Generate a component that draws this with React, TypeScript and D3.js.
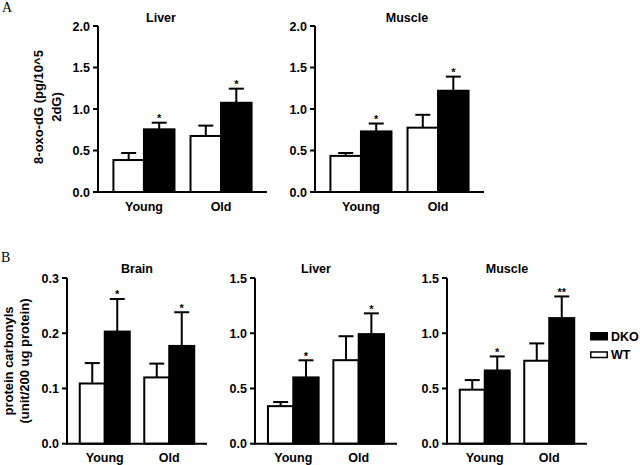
import React from "react";
import * as d3 from "d3";

// ---------- data ----------
const groups = ["Young", "Old"];
const seriesNames = ["WT", "DKO"];

// Panel A: 8-oxo-dG
const liverA_WT = [0.385, 0.675];
const liverA_WT_sem = [0.085, 0.125];
const liverA_DKO = [0.755, 1.075];
const liverA_DKO_sem = [0.08, 0.17];
const liverA_sig = ["*", "*"];

const muscleA_WT = [0.435, 0.775];
const muscleA_WT_sem = [0.035, 0.155];
const muscleA_DKO = [0.73, 1.22];
const muscleA_DKO_sem = [0.095, 0.17];
const muscleA_sig = ["*", "*"];

// Panel B: protein carbonyls
const brainB_WT = [0.109, 0.12];
const brainB_WT_sem = [0.037, 0.025];
const brainB_DKO = [0.203, 0.177];
const brainB_DKO_sem = [0.059, 0.061];
const brainB_sig = ["*", "*"];

const liverB_WT = [0.34, 0.756];
const liverB_WT_sem = [0.037, 0.217];
const liverB_DKO = [0.6, 0.992];
const liverB_DKO_sem = [0.155, 0.188];
const liverB_sig = ["*", "*"];

const muscleB_WT = [0.489, 0.751];
const muscleB_WT_sem = [0.087, 0.157];
const muscleB_DKO = [0.663, 1.137];
const muscleB_DKO_sem = [0.127, 0.196];
const muscleB_sig = ["*", "**"];

const ticksA = [0, 0.5, 1.0, 1.5, 2.0];
const ticksBrain = [0, 0.1, 0.2, 0.3];
const ticksB = [0, 0.5, 1.0, 1.5];

const FONT = "'Liberation Sans', Arial, Helvetica, sans-serif";

type PanelProps = {
  title: string;
  titleX: number;
  titleY: number;
  x0: number;
  x1: number;
  yTop: number;
  yBot: number;
  yMax: number;
  ticks: number[];
  wt: number[];
  wtSem: number[];
  dko: number[];
  dkoSem: number[];
  sig: string[];
  padInner: number;
  padOuter: number;
};

function Panel(p: PanelProps) {
  const y = d3.scaleLinear().domain([0, p.yMax]).range([p.yBot, p.yTop]);
  const xg = d3
    .scaleBand<string>()
    .domain(groups)
    .range([p.x0, p.x1])
    .paddingInner(p.padInner)
    .paddingOuter(p.padOuter);
  const xs = d3.scaleBand<string>().domain(seriesNames).range([0, xg.bandwidth()]);
  const capW = 15;
  const means: Record<string, number[]> = { WT: p.wt, DKO: p.dko };
  const sems: Record<string, number[]> = { WT: p.wtSem, DKO: p.dkoSem };
  return (
    <g>
      <text
        x={p.titleX}
        y={p.titleY}
        textAnchor="middle"
        fontFamily={FONT}
        fontWeight="bold"
        fontSize={12.5}
      >
        {p.title}
      </text>
      {groups.map((g, gi) =>
        seriesNames.map((s) => {
          const bx = (xg(g) as number) + (xs(s) as number);
          const bw = xs.bandwidth();
          const m = means[s][gi];
          const e = m + sems[s][gi];
          const cx = bx + bw / 2;
          return (
            <g key={g + s}>
              <line x1={cx} x2={cx} y1={y(m)} y2={y(e)} stroke="#000" strokeWidth={2} />
              <line
                x1={cx - capW / 2}
                x2={cx + capW / 2}
                y1={y(e)}
                y2={y(e)}
                stroke="#000"
                strokeWidth={2}
              />
              <rect
                x={bx}
                y={y(m)}
                width={bw}
                height={p.yBot - y(m)}
                fill={s === "DKO" ? "#000" : "#fff"}
                stroke="#000"
                strokeWidth={2}
              />
              {s === "DKO" && (
                <text
                  x={cx}
                  y={y(e) - 0.5}
                  textAnchor="middle"
                  fontFamily={FONT}
                  fontWeight="bold"
                  fontSize={11}
                >
                  {p.sig[gi]}
                </text>
              )}
            </g>
          );
        })
      )}
      {/* axes */}
      <line x1={p.x0} x2={p.x0} y1={p.yTop} y2={p.yBot + 1} stroke="#000" strokeWidth={2} />
      <line x1={p.x0 - 1} x2={p.x1} y1={p.yBot} y2={p.yBot} stroke="#000" strokeWidth={2} />
      {p.ticks.map((t) => (
        <g key={t}>
          <line x1={p.x0 - 5} x2={p.x0} y1={y(t)} y2={y(t)} stroke="#000" strokeWidth={2} />
          <text
            x={p.x0 - 8}
            y={y(t)}
            dy="0.36em"
            textAnchor="end"
            fontFamily={FONT}
            fontWeight="bold"
            fontSize={12.5}
          >
            {d3.format(".1f")(t)}
          </text>
        </g>
      ))}
      {groups.map((g) => (
        <text
          key={g}
          x={(xg(g) as number) + xg.bandwidth() / 2}
          y={p.yBot + 18.5}
          textAnchor="middle"
          fontFamily={FONT}
          fontWeight="bold"
          fontSize={12.5}
        >
          {g}
        </text>
      ))}
    </g>
  );
}

export default function App() {
  const padA = { padInner: 0.208, padOuter: 0.2 };
  const padB = { padInner: 0.225, padOuter: 0.198 };
  return (
    <svg
      width={640}
      height={465}
      style={{ position: "absolute", left: 0, top: 0, background: "#fff" }}
    >
      <rect x={0} y={0} width={640} height={465} fill="#fff" />
      <text x={2} y={12} fontFamily="'Liberation Serif', 'Times New Roman', serif" fontSize={14}>
        A
      </text>
      <text x={1} y={262} fontFamily="'Liberation Serif', 'Times New Roman', serif" fontSize={14}>
        B
      </text>

      {/* Y label A */}
      <text
        transform="translate(43,107) rotate(-90)"
        textAnchor="middle"
        fontFamily={FONT}
        fontWeight="bold"
        fontSize={13}
      >
        8-oxo-dG (pg/10^5
      </text>
      <text
        transform="translate(61,107) rotate(-90)"
        textAnchor="middle"
        fontFamily={FONT}
        fontWeight="bold"
        fontSize={13}
      >
        2dG)
      </text>

      {/* Y label B */}
      <text
        transform="translate(13,361) rotate(-90)"
        textAnchor="middle"
        fontFamily={FONT}
        fontWeight="bold"
        fontSize={13}
      >
        protein carbonyls
      </text>
      <text
        transform="translate(28.5,361) rotate(-90)"
        textAnchor="middle"
        fontFamily={FONT}
        fontWeight="bold"
        fontSize={13}
      >
        (unit/200 ug protein)
      </text>

      <Panel
        title="Liver"
        titleX={161}
        titleY={22}
        x0={98}
        x1={267}
        yTop={26}
        yBot={192}
        yMax={2}
        ticks={ticksA}
        wt={liverA_WT}
        wtSem={liverA_WT_sem}
        dko={liverA_DKO}
        dkoSem={liverA_DKO_sem}
        sig={liverA_sig}
        {...padA}
      />
      <Panel
        title="Muscle"
        titleX={407}
        titleY={22}
        x0={315}
        x1={484}
        yTop={26}
        yBot={192}
        yMax={2}
        ticks={ticksA}
        wt={muscleA_WT}
        wtSem={muscleA_WT_sem}
        dko={muscleA_DKO}
        dkoSem={muscleA_DKO_sem}
        sig={muscleA_sig}
        {...padA}
      />
      <Panel
        title="Brain"
        titleX={137}
        titleY={273}
        x0={67}
        x1={207}
        yTop={278}
        yBot={443.7}
        yMax={0.3}
        ticks={ticksBrain}
        wt={brainB_WT}
        wtSem={brainB_WT_sem}
        dko={brainB_DKO}
        dkoSem={brainB_DKO_sem}
        sig={brainB_sig}
        {...padB}
      />
      <Panel
        title="Liver"
        titleX={316}
        titleY={273}
        x0={255}
        x1={397}
        yTop={278}
        yBot={443.7}
        yMax={1.5}
        ticks={ticksB}
        wt={liverB_WT}
        wtSem={liverB_WT_sem}
        dko={liverB_DKO}
        dkoSem={liverB_DKO_sem}
        sig={liverB_sig}
        {...padB}
      />
      <Panel
        title="Muscle"
        titleX={507}
        titleY={273}
        x0={447}
        x1={587}
        yTop={278}
        yBot={443.7}
        yMax={1.5}
        ticks={ticksB}
        wt={muscleB_WT}
        wtSem={muscleB_WT_sem}
        dko={muscleB_DKO}
        dkoSem={muscleB_DKO_sem}
        sig={muscleB_sig}
        {...padB}
      />

      {/* legend */}
      <rect x={590} y={332} width={18} height={8.5} fill="#000" />
      <text x={611} y={341} fontFamily={FONT} fontWeight="bold" fontSize={12.5}>
        {seriesNames[1]}
      </text>
      <rect x={590.75} y={352} width={16.5} height={5.5} fill="#fff" stroke="#000" strokeWidth={1.5} />
      <text x={611} y={359} fontFamily={FONT} fontWeight="bold" fontSize={12.5}>
        {seriesNames[0]}
      </text>
    </svg>
  );
}
